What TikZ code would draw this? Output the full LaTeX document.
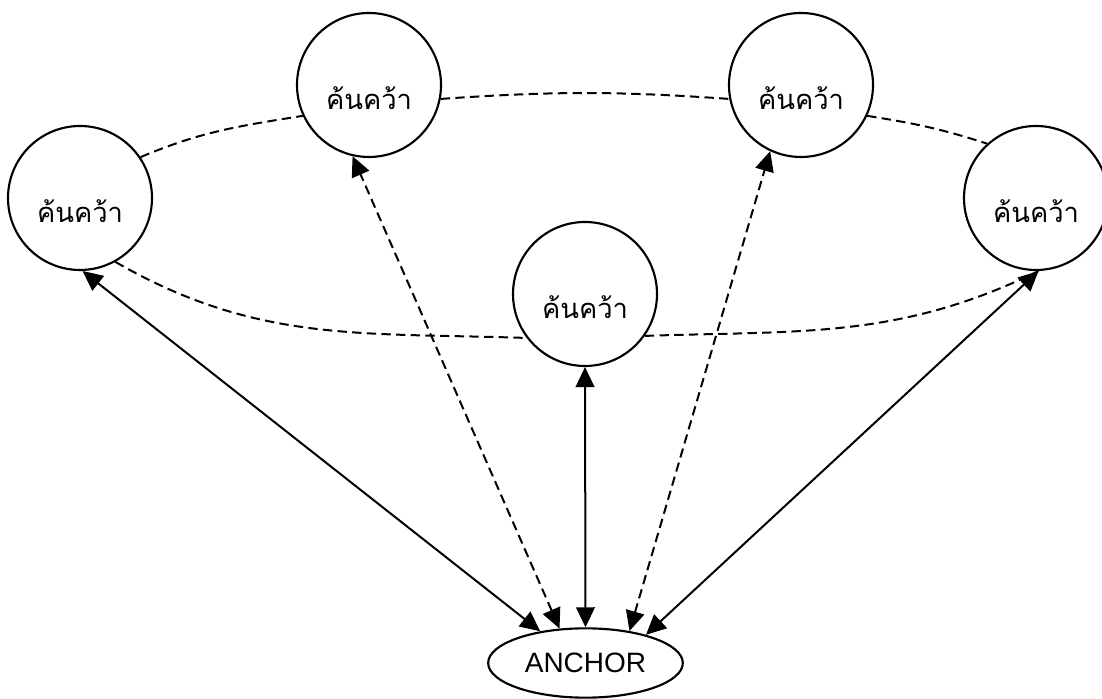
\documentclass[tikz,border=0pt]{standalone}
\usepackage{fontspec}
\setmainfont{Liberation Sans}
\newfontfamily\thaifont[Script=Thai]{Loma}
\usetikzlibrary{arrows.meta}
\usetikzlibrary{shapes.geometric}

\begin{document}
\begin{tikzpicture}[x=0.75pt,y=0.75pt,
  topic/.style={circle, draw, line width=1.6pt, fill=white, minimum size=108pt, inner sep=0pt,
    font=\thaifont\fontsize{20.5}{25}\selectfont, text height=37pt, text depth=0pt},
  hub/.style={ellipse, draw, line width=1.6pt, fill=white, minimum width=146pt, minimum height=52pt,
    inner sep=0pt, font=\fontsize{21}{25}\selectfont},
  orbit/.style={line width=1.5pt, dash pattern=on 7pt off 4pt},
  link/.style={line width=1.5pt, {Triangle[length=15pt,width=14pt]}-{Triangle[length=15pt,width=14pt]}},
  dlink/.style={link, dash pattern=on 7pt off 4pt}]
\useasboundingbox (0,0) rectangle (1102,699);

\node [topic] (left) at (80,501) {ค้นคว้า};
\node [topic] (topleft) at (369,614) {ค้นคว้า};
\node [topic] (topright) at (801,614) {ค้นคว้า};
\node [topic] (right) at (1036,501) {ค้นคว้า};
\node [topic] (mid) at (585,405) {ค้นคว้า};
\node [hub] (anchor) at (585.5,36) {ANCHOR};

% dashed ring
\draw [orbit] (left.34) to[out=23,in=189] (topleft.205);
\draw [orbit] (topleft.-11) to[out=4,in=176] (topright.191);
\draw [orbit] (topright.-25) to[out=-9,in=162] (right.132);
\draw [orbit] (left.-61) to[out=-30,in=178] (mid.217);
\draw [orbit] (mid.-35) to[out=2,in=206] (right.-88);

% links to the anchor
\draw [link] (anchor.145) -- (left.-88);
\draw [dlink] (anchor.127) -- (topleft.-103);
\draw [link] (anchor.north) -- (mid.south);
\draw [dlink] (anchor.36) -- (topright.-115);
\draw [link] (anchor.25) -- (right.-88);
\end{tikzpicture}
\end{document}
